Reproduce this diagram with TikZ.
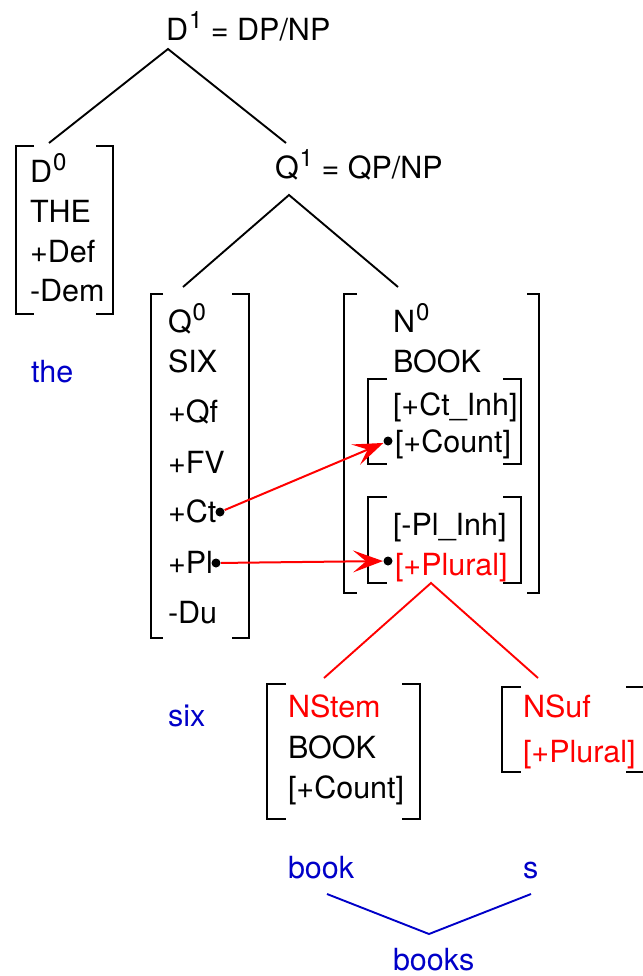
\documentclass[tikz,border=0pt]{standalone}
\usepackage{fontspec}
\setmainfont{TeX Gyre Heros}
\usetikzlibrary{arrows.meta}
\definecolor{glossblue}{RGB}{0,0,200}
\definecolor{featred}{RGB}{255,0,0}
% raised, smaller index digit (D^0, Q^1, ...)
\newcommand\barlevel[1]{\kern1pt\raisebox{12pt}{\fontsize{24}{24}\selectfont #1}}
% square brackets drawn round an empty area node: node, left tick, right tick
\newcommand\fvbrk[3]{%
  \draw[brk] ([xshift=#2]#1.north west) -| (#1.south west) -- ++(#2,0);
  \draw[brk] ([xshift=-#3]#1.north east) -| (#1.south east) -- ++(-#3,0);}
\begin{document}
\begin{tikzpicture}[x=1pt,y=-1pt,
  every node/.style={font=\fontsize{30.5}{36}\selectfont},
  lbl/.style={anchor=base west, inner sep=0pt, outer sep=0pt},
  gloss/.style={lbl, text=glossblue},
  redtxt/.style={lbl, text=featred},
  area/.style={draw=none, rectangle, inner sep=0pt, outer sep=0pt},
  brk/.style={line width=2.2pt, line cap=butt, line join=miter},
  branch/.style={line width=1.9pt},
  redbranch/.style={branch, featred},
  bluebranch/.style={branch, glossblue},
  fdot/.style={circle, fill=black, inner sep=0pt, minimum size=9pt, outer sep=0.5pt},
  redarrow/.style={featred, line width=2pt, -{Stealth[length=30pt, width=22pt, inset=13pt]}}
]
\useasboundingbox (0,0) rectangle (642,976);

% ---- phrase labels
\node[lbl] (d1) at (166,41) {D\barlevel{1} = DP/NP};
\node[lbl] (q1) at (275,179) {Q\barlevel{1} = QP/NP};

% ---- bracketed feature matrices
\node[area, minimum width=97pt,  minimum height=168pt] (d0box)   at (64.5,230) {};
\node[area, minimum width=98pt,  minimum height=344pt] (q0box)   at (200,466) {};
\node[area, minimum width=195pt, minimum height=299pt] (n0box)   at (441.5,443.5) {};
\node[area, minimum width=153pt, minimum height=85pt]  (ctbox)   at (444.5,421.5) {};
\node[area, minimum width=153pt, minimum height=86pt]  (plbox)   at (444.5,540) {};
\node[area, minimum width=153pt, minimum height=135pt] (stembox) at (343.5,751.5) {};
\node[area, minimum width=142pt, minimum height=85pt]  (sufbox)  at (573,729.5) {};

\fvbrk{d0box}{18}{17}
\fvbrk{q0box}{12}{17}
\fvbrk{n0box}{13}{12}
\fvbrk{ctbox}{19}{18}
\fvbrk{plbox}{19}{18}
\fvbrk{stembox}{19}{18}
\fvbrk{sufbox}{19}{18}

% D0
\node[lbl] (d0) at (30,183) {D\barlevel{0}};
\node[lbl] (the) at (30,223) {THE};
\node[lbl] (def) at (30,262) {+Def};
\node[lbl] (dem) at (30,301) {-Dem};
\node[gloss] (gthe) at (31,382) {the};

% Q0
\node[lbl] (q0) at (168,332) {Q\barlevel{0}};
\node[lbl] (six) at (168,372) {SIX};
\node[lbl] (qf) at (168,422) {+Qf};
\node[lbl] (fv) at (168,473) {+FV};
\node[lbl] (ct) at (168,522) {+Ct};
\node[lbl] (pl) at (168,573) {+Pl};
\node[lbl] (du) at (168,623) {-Du};
\node[gloss] (gsix) at (168,726) {six};

% N0
\node[lbl] (n0) at (393,332) {N\barlevel{0}};
\node[lbl] (book) at (393,372) {BOOK};
\node[lbl] (ctinh) at (393,415) {[+Ct\_Inh]};
\node[lbl] (count) at (395,452) {[+Count]};
\node[lbl] (plinh) at (393,535) {[-Pl\_Inh]};
\node[redtxt] (plural) at (395,575) {[+Plural]};

% stem and suffix
\node[redtxt] (nstem) at (288,717) {NStem};
\node[lbl] (stembook) at (288,758) {BOOK};
\node[lbl] (stemcount) at (288,798) {[+Count]};
\node[redtxt] (nsuf) at (523,717) {NSuf};
\node[redtxt] (sufplural) at (523,762) {[+Plural]};

\node[gloss] (gbook) at (288,878) {book};
\node[gloss] (gs) at (523,878) {s};
\node[gloss] (gbooks) at (393,970) {books};

% ---- feature dots and agreement arrows
\node[fdot] (ctdot) at (220,512) {};
\node[fdot] (pldot) at (216,563) {};
\node[fdot] (countdot) at (388,441) {};
\node[fdot] (pluraldot) at (388,561) {};
\draw[redarrow] (ctdot) -- (countdot);
\draw[redarrow] (pldot) -- (pluraldot);

% ---- tree branches
\coordinate (d1foot) at (168,49);
\coordinate (d0top) at (49,143);
\coordinate (q1top) at (286,143);
\coordinate (q1foot) at (289,195);
\coordinate (q0top) at (183,287);
\coordinate (n0top) at (398,287);
\draw[branch] (d0top) -- (d1foot) -- (q1top);
\draw[branch] (q0top) -- (q1foot) -- (n0top);

\coordinate (pluralfoot) at (431,583);
\coordinate (stemtop) at (324,678);
\coordinate (suftop) at (538,678);
\draw[redbranch] (stemtop) -- (pluralfoot) -- (suftop);

\coordinate (bookfoot) at (327,894);
\coordinate (sfoot) at (531,894);
\coordinate (bookstop) at (429,934);
\draw[bluebranch] (bookfoot) -- (bookstop) -- (sfoot);
\end{tikzpicture}
\end{document}
